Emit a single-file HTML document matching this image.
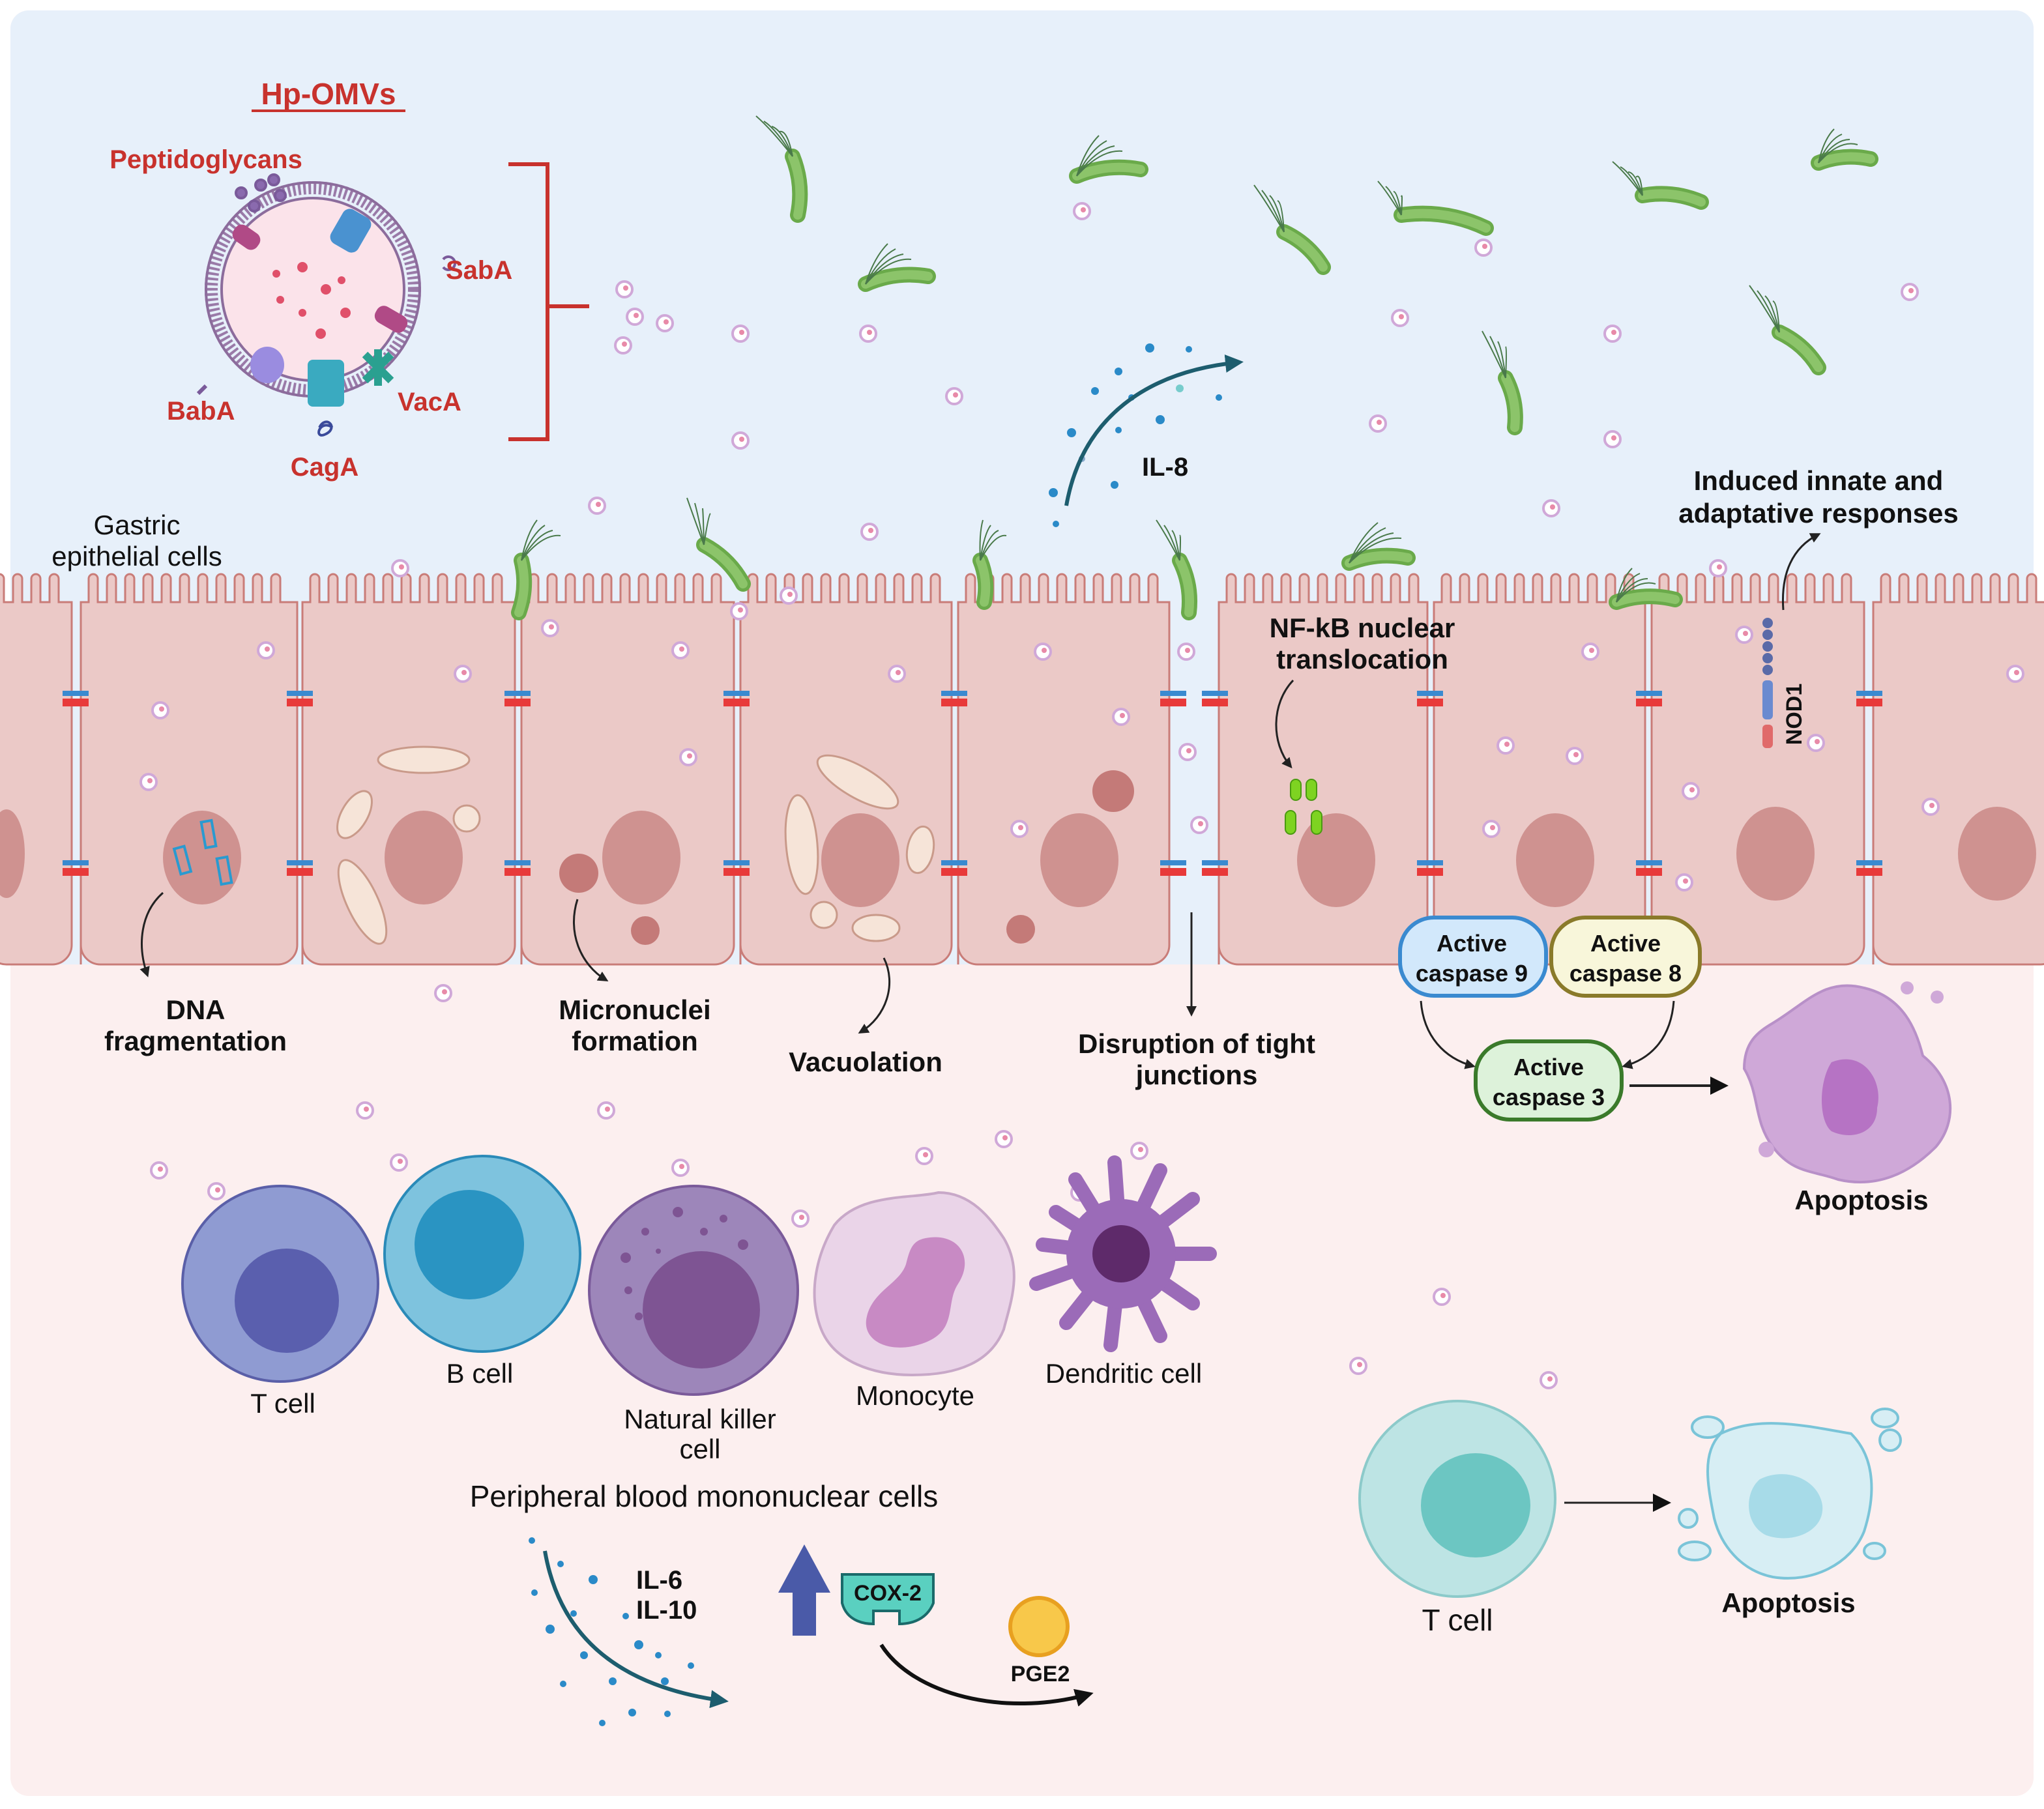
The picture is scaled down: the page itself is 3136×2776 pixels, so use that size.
<!DOCTYPE html>
<html><head><meta charset="utf-8"><style>
html,body{margin:0;padding:0;background:#fff}
svg{display:block}
text{font-family:"Liberation Sans",sans-serif}
.b{font-weight:bold}
</style></head><body>
<svg id="s" width="3136" height="2776" viewBox="0 0 1568 1388" xmlns="http://www.w3.org/2000/svg">
<defs>
<marker id="ah" markerWidth="8" markerHeight="8" refX="6" refY="4" orient="auto" markerUnits="userSpaceOnUse"><path d="M0,0 L8,4 L0,8 z" fill="#222"/></marker>
<marker id="ahb" markerWidth="14" markerHeight="14" refX="10" refY="7" orient="auto" markerUnits="userSpaceOnUse"><path d="M0,0 L14,7 L0,14 z" fill="#1d5d6e"/></marker>
<marker id="ahk" markerWidth="14" markerHeight="14" refX="10" refY="7" orient="auto" markerUnits="userSpaceOnUse"><path d="M0,0 L14,7 L0,14 z" fill="#111"/></marker>
</defs>
<rect x="0" y="0" width="1568" height="1388" fill="#fff"/>
<rect x="8" y="8" width="1552" height="1370" rx="14" fill="#fcefef"/>
<path d="M8,22 a14,14 0 0 1 14,-14 H1546 a14,14 0 0 1 14,14 V740 H8 z" fill="#e7f0fa"/>
<g id="cells"></g>
<g id="ves"></g>
<g id="bac"></g>

<g>
<circle cx="240" cy="222" r="78" fill="none" stroke="#9a7aa8" stroke-width="10" stroke-dasharray="2 2"/>
<circle cx="240" cy="222" r="70" fill="#fbe3ea" stroke="#8c6c9c" stroke-width="2"/>
<circle cx="240" cy="222" r="82" fill="none" stroke="#8c6c9c" stroke-width="2"/>
<g fill="#e0506a"><circle cx="232" cy="205" r="4"/><circle cx="250" cy="222" r="4"/><circle cx="215" cy="230" r="3"/><circle cx="265" cy="240" r="4"/><circle cx="232" cy="240" r="3"/><circle cx="246" cy="256" r="4"/><circle cx="212" cy="210" r="3"/><circle cx="262" cy="215" r="3"/></g>
<rect x="178" y="175" width="22" height="14" rx="6" fill="#b04a86" transform="rotate(35 189 182)"/>
<rect x="257" y="162" width="24" height="30" rx="6" fill="#4a92d0" transform="rotate(30 269 177)"/>
<rect x="287" y="238" width="26" height="14" rx="6" fill="#b04a86" transform="rotate(30 300 245)"/>
<ellipse cx="205" cy="280" rx="13" ry="14" fill="#9a8ce0"/>
<rect x="236" y="276" width="28" height="36" rx="4" fill="#3aaac0"/>
<path d="M280,272 l20,20 M300,272 l-20,20 M290,268 v28" stroke="#2aa090" stroke-width="6"/>
<g stroke="#7a5a9a" stroke-width="2" fill="#8a6aae"><circle cx="185" cy="148" r="4"/><circle cx="200" cy="142" r="4"/><circle cx="215" cy="150" r="4"/><circle cx="195" cy="158" r="4"/><circle cx="210" cy="138" r="4"/></g>
<path d="M340,205 a5,5 0 1 0 0,-6" fill="none" stroke="#7a5a9a" stroke-width="2"/>
<path d="M158,296 l-6,6" stroke="#7a5a9a" stroke-width="3"/>
<path d="M245,328 c5,-10 15,0 5,5 c-10,5 -5,-12 5,-5" fill="none" stroke="#3a4a9a" stroke-width="2"/>
</g>
<text x="252" y="80" class="b" font-size="23" fill="#c8322d" text-anchor="middle">Hp-OMVs</text>
<line x1="193" y1="85" x2="311" y2="85" stroke="#c8322d" stroke-width="2"/>
<text x="158" y="129" class="b" font-size="20" fill="#c8322d" text-anchor="middle">Peptidoglycans</text>
<text x="342" y="214" class="b" font-size="20" fill="#c8322d">SabA</text>
<text x="128" y="322" class="b" font-size="20" fill="#c8322d">BabA</text>
<text x="305" y="315" class="b" font-size="20" fill="#c8322d">VacA</text>
<text x="249" y="365" class="b" font-size="20" fill="#c8322d" text-anchor="middle">CagA</text>
<path d="M390,126 H420 V337 H390 M420,235 H452" fill="none" stroke="#c8322d" stroke-width="3"/>

<g fill="#2a8ac8"><circle cx="882" cy="267" r="3.5"/><circle cx="858" cy="285" r="3"/><circle cx="912" cy="268" r="2.5"/><circle cx="840" cy="300" r="3"/><circle cx="890" cy="322" r="3.5"/><circle cx="905" cy="298" r="3" fill="#7cc"/><circle cx="822" cy="332" r="3.5"/><circle cx="858" cy="330" r="2.5"/><circle cx="808" cy="378" r="3.5"/><circle cx="855" cy="372" r="3"/><circle cx="830" cy="352" r="2.5" fill="#8ac"/><circle cx="935" cy="305" r="2.5"/><circle cx="810" cy="402" r="2.5"/><circle cx="868" cy="305" r="2.5"/></g>
<path d="M818,388 C830,320 880,285 950,278" fill="none" stroke="#1d5d6e" stroke-width="3" marker-end="url(#ahb)"/>
<text x="876" y="365" class="b" font-size="20" fill="#111">IL-8</text>

<text x="1395" y="376" class="b" font-size="21" fill="#111" text-anchor="middle">Induced innate and</text>
<text x="1395" y="401" class="b" font-size="21" fill="#111" text-anchor="middle">adaptative responses</text>
<path d="M1368,468 C1366,440 1375,420 1395,410" fill="none" stroke="#222" stroke-width="1.5" marker-end="url(#ah)"/>

<text x="105" y="410" font-size="21" fill="#111" text-anchor="middle">Gastric</text>
<text x="105" y="434" font-size="21" fill="#111" text-anchor="middle">epithelial cells</text>

<text x="1045" y="489" class="b" font-size="21" fill="#111" text-anchor="middle">NF-kB nuclear</text>
<text x="1045" y="513" class="b" font-size="21" fill="#111" text-anchor="middle">translocation</text>
<path d="M992,522 C975,540 975,570 990,588" fill="none" stroke="#222" stroke-width="1.5" marker-end="url(#ah)"/>
<g fill="#7ed321" stroke="#4a9a10" stroke-width="1"><rect x="990" y="598" width="8" height="16" rx="4"/><rect x="1002" y="598" width="8" height="16" rx="4"/><rect x="986" y="622" width="8" height="18" rx="4"/><rect x="1006" y="622" width="8" height="18" rx="4"/></g>
<g fill="#5a6aa8"><circle cx="1356" cy="478" r="4"/><circle cx="1356" cy="487" r="4"/><circle cx="1356" cy="496" r="4"/><circle cx="1356" cy="505" r="4"/><circle cx="1356" cy="514" r="4"/><rect x="1352" y="522" width="8" height="30" rx="3" fill="#6a8ad0"/><rect x="1352" y="556" width="8" height="18" rx="3" fill="#e06a6a"/></g>
<text x="1382" y="548" class="b" font-size="17" fill="#111" text-anchor="middle" transform="rotate(-90 1382 548)">NOD1</text>

<path d="M125,685 C108,700 105,725 113,748" fill="none" stroke="#222" stroke-width="1.5" marker-end="url(#ah)"/>
<text x="150" y="782" class="b" font-size="21" fill="#111" text-anchor="middle">DNA</text>
<text x="150" y="806" class="b" font-size="21" fill="#111" text-anchor="middle">fragmentation</text>
<path d="M443,690 C435,715 445,740 465,752" fill="none" stroke="#222" stroke-width="1.5" marker-end="url(#ah)"/>
<text x="487" y="782" class="b" font-size="21" fill="#111" text-anchor="middle">Micronuclei</text>
<text x="487" y="806" class="b" font-size="21" fill="#111" text-anchor="middle">formation</text>
<path d="M678,735 C688,755 680,780 660,792" fill="none" stroke="#222" stroke-width="1.5" marker-end="url(#ah)"/>
<text x="664" y="822" class="b" font-size="21" fill="#111" text-anchor="middle">Vacuolation</text>
<line x1="914" y1="700" x2="914" y2="778" stroke="#222" stroke-width="1.5" marker-end="url(#ah)"/>
<text x="918" y="808" class="b" font-size="21" fill="#111" text-anchor="middle">Disruption of tight</text>
<text x="918" y="832" class="b" font-size="21" fill="#111" text-anchor="middle">junctions</text>

<rect x="1074" y="704" width="112" height="60" rx="26" fill="#d2e8fb" stroke="#3a8ad0" stroke-width="3"/>
<text x="1129" y="730" class="b" font-size="18" fill="#111" text-anchor="middle">Active</text>
<text x="1129" y="753" class="b" font-size="18" fill="#111" text-anchor="middle">caspase 9</text>
<rect x="1190" y="704" width="114" height="60" rx="26" fill="#f8f6da" stroke="#8a7a2a" stroke-width="3"/>
<text x="1247" y="730" class="b" font-size="18" fill="#111" text-anchor="middle">Active</text>
<text x="1247" y="753" class="b" font-size="18" fill="#111" text-anchor="middle">caspase 8</text>
<rect x="1132" y="799" width="112" height="60" rx="26" fill="#ddf2da" stroke="#3a7a2a" stroke-width="3"/>
<text x="1188" y="825" class="b" font-size="18" fill="#111" text-anchor="middle">Active</text>
<text x="1188" y="848" class="b" font-size="18" fill="#111" text-anchor="middle">caspase 3</text>
<path d="M1090,768 C1092,795 1108,812 1130,818" fill="none" stroke="#222" stroke-width="1.5" marker-end="url(#ah)"/>
<path d="M1284,768 C1282,795 1268,812 1246,818" fill="none" stroke="#222" stroke-width="1.5" marker-end="url(#ah)"/>
<line x1="1250" y1="833" x2="1322" y2="833" stroke="#222" stroke-width="2" marker-end="url(#ahk)"/>
<path d="M1360,785 C1385,770 1400,750 1430,758 C1460,765 1470,790 1475,810 C1500,830 1502,860 1485,880 C1465,900 1440,912 1410,905 C1390,898 1375,900 1360,880 C1345,860 1350,840 1338,820 C1338,800 1348,792 1360,785 z" fill="#cfa8d8" stroke="#b890c8" stroke-width="2"/>
<path d="M1405,815 C1430,805 1445,830 1440,850 C1440,870 1420,875 1405,868 C1395,860 1395,830 1405,815 z" fill="#b673c4"/>
<circle cx="1463" cy="758" r="5" fill="#cfa8d8"/><circle cx="1486" cy="765" r="5" fill="#cfa8d8"/><circle cx="1355" cy="882" r="6" fill="#cfa8d8"/>
<text x="1428" y="928" class="b" font-size="21" fill="#111" text-anchor="middle">Apoptosis</text>

<circle cx="215" cy="985" r="75" fill="#8f9bd2" stroke="#5a5fa8" stroke-width="2"/>
<circle cx="220" cy="998" r="40" fill="#5a5fae"/>
<text x="217" y="1084" font-size="21" fill="#111" text-anchor="middle">T cell</text>
<circle cx="370" cy="962" r="75" fill="#7ec3de" stroke="#2a8ab8" stroke-width="2"/>
<circle cx="360" cy="955" r="42" fill="#2a94c2"/>
<text x="368" y="1061" font-size="21" fill="#111" text-anchor="middle">B cell</text>
<circle cx="532" cy="990" r="80" fill="#9d86ba" stroke="#7a5a9a" stroke-width="2"/>
<circle cx="538" cy="1005" r="45" fill="#7e5493"/>
<g fill="#7e5493"><circle cx="480" cy="965" r="4"/><circle cx="495" cy="945" r="3"/><circle cx="520" cy="930" r="4"/><circle cx="555" cy="935" r="3"/><circle cx="570" cy="955" r="4"/><circle cx="482" cy="990" r="3"/><circle cx="490" cy="1010" r="3"/><circle cx="540" cy="945" r="3"/><circle cx="505" cy="960" r="2"/></g>
<text x="537" y="1096" font-size="21" fill="#111" text-anchor="middle">Natural killer</text>
<text x="537" y="1119" font-size="21" fill="#111" text-anchor="middle">cell</text>
<path d="M640,940 C660,915 700,920 720,915 C745,915 760,935 770,950 C785,975 775,1000 770,1020 C760,1045 735,1055 700,1055 C670,1055 640,1045 630,1020 C620,995 625,965 640,940 z" fill="#ead4e8" stroke="#c8a8c8" stroke-width="2"/>
<path d="M710,950 C735,945 748,965 735,985 C725,1000 735,1020 710,1030 C685,1040 660,1030 665,1010 C670,990 690,985 695,970 C698,958 700,952 710,950 z" fill="#c88ac4"/>
<text x="702" y="1078" font-size="21" fill="#111" text-anchor="middle">Monocyte</text>
<g stroke="#9b6bb8" stroke-width="11" stroke-linecap="round" fill="none">
<path d="M860,962 L810,930 M860,962 L825,905 M860,962 L855,892 M860,962 L890,898 M860,962 L915,920 M860,962 L928,962 M860,962 L915,1000 M860,962 L890,1025 M860,962 L852,1032 M860,962 L818,1015 M860,962 L795,985 M860,962 L800,955"/>
</g>
<circle cx="860" cy="962" r="42" fill="#9b6bb8"/>
<circle cx="860" cy="962" r="22" fill="#5e2a6a"/>
<text x="862" y="1061" font-size="21" fill="#111" text-anchor="middle">Dendritic cell</text>
<text x="540" y="1156" font-size="23" fill="#111" text-anchor="middle">Peripheral blood mononuclear cells</text>

<g fill="#2a8ac8"><circle cx="408" cy="1182" r="2.5"/><circle cx="430" cy="1200" r="2.5"/><circle cx="455" cy="1212" r="3.5"/><circle cx="410" cy="1222" r="2.5"/><circle cx="422" cy="1250" r="3.5"/><circle cx="440" cy="1238" r="2.5"/><circle cx="480" cy="1240" r="2.5"/><circle cx="490" cy="1262" r="3.5"/><circle cx="448" cy="1270" r="3"/><circle cx="470" cy="1290" r="3"/><circle cx="432" cy="1292" r="2.5"/><circle cx="510" cy="1290" r="3"/><circle cx="530" cy="1278" r="2.5"/><circle cx="485" cy="1314" r="3"/><circle cx="462" cy="1322" r="2.5"/><circle cx="512" cy="1315" r="2.5"/><circle cx="505" cy="1270" r="2.5"/></g>
<path d="M418,1190 C430,1260 480,1295 555,1305" fill="none" stroke="#1d5d6e" stroke-width="3" marker-end="url(#ahb)"/>
<text x="488" y="1219" class="b" font-size="20" fill="#111">IL-6</text>
<text x="488" y="1242" class="b" font-size="20" fill="#111">IL-10</text>
<path d="M617,1185 L637,1222 H626 V1255 H608 V1222 H597 z" fill="#4a5aa8"/>
<path d="M646,1208 H716 V1230 C710,1245 695,1246 690,1246 V1236 H670 V1246 C665,1246 650,1245 646,1230 z" fill="#5ad0c0" stroke="#1a6a6a" stroke-width="2"/>
<text x="681" y="1228" class="b" font-size="17" fill="#111" text-anchor="middle">COX-2</text>
<path d="M676,1262 C700,1300 770,1318 835,1300" fill="none" stroke="#111" stroke-width="3" marker-end="url(#ahk)"/>
<circle cx="797" cy="1248" r="22" fill="#f8c84a" stroke="#e8a020" stroke-width="3"/>
<text x="798" y="1290" class="b" font-size="17" fill="#111" text-anchor="middle">PGE2</text>

<circle cx="1118" cy="1150" r="75" fill="#bde4e4" stroke="#8ccaca" stroke-width="2"/>
<ellipse cx="1132" cy="1155" rx="42" ry="40" fill="#6cc6c2"/>
<text x="1118" y="1251" font-size="23" fill="#111" text-anchor="middle">T cell</text>
<line x1="1200" y1="1153" x2="1278" y2="1153" stroke="#222" stroke-width="1.5" marker-end="url(#ahk)"/>
<path d="M1320,1100 C1350,1085 1390,1095 1420,1100 C1440,1120 1438,1150 1430,1175 C1420,1200 1390,1215 1360,1210 C1335,1205 1320,1185 1315,1165 C1310,1140 1305,1115 1320,1100 z" fill="#d7eef4" stroke="#7ac4d8" stroke-width="2"/>
<path d="M1350,1135 C1370,1125 1395,1135 1398,1155 C1400,1175 1375,1185 1355,1178 C1338,1170 1338,1145 1350,1135 z" fill="#a7dbe8"/>
<g fill="#d7eef4" stroke="#7ac4d8" stroke-width="2"><ellipse cx="1310" cy="1095" rx="12" ry="8"/><ellipse cx="1446" cy="1088" rx="10" ry="7"/><circle cx="1450" cy="1105" r="8"/><circle cx="1295" cy="1165" r="7"/><ellipse cx="1300" cy="1190" rx="12" ry="7"/><ellipse cx="1438" cy="1190" rx="8" ry="6"/></g>
<text x="1372" y="1237" class="b" font-size="21" fill="#111" text-anchor="middle">Apoptosis</text>
</svg>
<script>
var NS="http://www.w3.org/2000/svg";
function el(p,t,a){var e=document.createElementNS(NS,t);for(var k in a)e.setAttribute(k,a[k]);p.appendChild(e);return e;}
var cells=document.getElementById('cells');
var cs=[[-10,55],[62,228],[232,395],[400,563],[568,730],[735,897],[935,1095],[1100,1262],[1267,1430],[1437,1580]];
cs.forEach(function(c){
 var x0=c[0],x1=c[1];
 var d="M"+x0+",740 V462 ";
 for(var x=x0+3;x<x1-12;x+=14){d+="H"+(x+3)+" V444 a3.5,3.5 0 0 1 7,0 V462 ";}
 d+="H"+x1+" V725 a15,15 0 0 1 -15,15 H"+(x0+15)+" a15,15 0 0 1 -15,-15 z";
 el(cells,'path',{d:d,fill:"#ebc9c7",stroke:"#c97c78","stroke-width":1.5});
});
[58,230,397,565,732,900,932,1097,1265,1434].forEach(function(x){
 [535,665].forEach(function(y){
  el(cells,'rect',{x:x-10,y:y-5,width:20,height:4,fill:"#3a8ad0"});
  el(cells,'rect',{x:x-10,y:y+1,width:20,height:6,fill:"#e83a3a"});
 });
});
var nuc=[[5,655,14,34],[155,658,30,36],[325,658,30,36],[492,658,30,36],[660,660,30,36],[828,660,30,36],[1025,660,30,36],[1193,660,30,36],[1362,655,30,36],[1532,655,30,36]];
nuc.forEach(function(n){el(cells,'ellipse',{cx:n[0],cy:n[1],rx:n[2],ry:n[3],fill:"#cf9290"});});
[[444,670,15],[495,714,11],[854,607,16],[783,713,11]].forEach(function(n){el(cells,'circle',{cx:n[0],cy:n[1],r:n[2],fill:"#c47a78"});});
[[160,640,-10],[140,660,-15],[172,668,-10]].forEach(function(n){el(cells,'rect',{x:n[0]-4,y:n[1]-10,width:8,height:20,fill:"none",stroke:"#2a9ad0","stroke-width":2,transform:"rotate("+n[2]+" "+n[0]+" "+n[1]+")"});});
[[325,583,35,10,0],[272,625,10,20,30],[358,628,10,10,0],[278,692,12,35,-25],[658,600,35,12,30],[615,648,12,38,-5],[706,652,10,18,10],[632,702,10,10,0],[672,712,18,10,0]].forEach(function(v){el(cells,'ellipse',{cx:v[0],cy:v[1],rx:v[2],ry:v[3],fill:"#f6e4d8",stroke:"#c99a8a","stroke-width":1.5,transform:"rotate("+v[4]+" "+v[0]+" "+v[1]+")"});});
var ves=document.getElementById('ves');
[[479,222],[487,243],[478,265],[510,248],[568,256],[666,256],[732,304],[568,338],[830,162],[1138,190],[1074,244],[1237,256],[1465,224],[1057,325],[1237,337],[667,408],[458,388],[1190,390],[307,436],[204,499],[123,545],[114,600],[355,517],[522,499],[528,581],[422,482],[605,457],[567,469],[688,517],[800,500],[860,550],[910,500],[911,577],[920,633],[782,636],[1155,572],[1208,580],[1220,500],[1144,636],[1297,607],[1338,487],[1393,570],[1481,619],[1546,517],[1292,677],[1318,436],[340,762],[280,852],[122,898],[306,892],[166,914],[465,852],[522,896],[709,887],[770,874],[874,883],[614,935],[238,935],[390,916],[408,999],[566,943],[652,954],[698,1048],[828,915],[1106,995],[1042,1048],[1188,1059],[1126,1095],[1078,1110],[1077,1196]].forEach(function(p){
 el(ves,'circle',{cx:p[0],cy:p[1],r:6,fill:"#fff",stroke:"#d0a8d8","stroke-width":2});
 el(ves,'circle',{cx:p[0]+1,cy:p[1]-1,r:2,fill:"#e88aa8"});
});
var bac=document.getElementById('bac');
function bug(x1,y1,x2,y2,fx,fy){
 var mx=(x1+x2)/2+(y2-y1)*0.15,my=(y1+y2)/2-(x2-x1)*0.15;
 el(bac,'path',{d:"M"+x1+","+y1+" Q"+mx+","+my+" "+x2+","+y2,fill:"none",stroke:"#6aaa4a","stroke-width":12,"stroke-linecap":"round"});
 el(bac,'path',{d:"M"+x1+","+y1+" Q"+mx+","+my+" "+x2+","+y2,fill:"none",stroke:"#8cc46a","stroke-width":7,"stroke-linecap":"round"});
 for(var i=0;i<4;i++){el(bac,'path',{d:"M"+x1+","+y1+" q"+(fx*0.5+i*4-6)+","+(fy*0.5-8)+" "+(fx+i*6-8)+","+(fy+i*4-6),fill:"none",stroke:"#4a7a4a","stroke-width":1});}
}
bug(608,120,612,165,-20,-25);bug(664,218,712,212,25,-25);bug(826,135,875,130,25,-25);bug(985,178,1015,205,-15,-30);bug(1075,165,1140,175,-10,-20);bug(1260,150,1305,155,-15,-20);bug(1395,125,1435,122,20,-20);bug(1155,290,1162,328,-10,-30);bug(1365,255,1395,282,-15,-30);bug(540,418,570,448,-5,-30);bug(400,430,398,470,20,-25);bug(752,430,755,462,10,-25);bug(905,430,912,470,-10,-25);bug(1035,432,1080,428,30,-25);bug(1240,462,1285,460,20,-20);
</script>
</body></html>
